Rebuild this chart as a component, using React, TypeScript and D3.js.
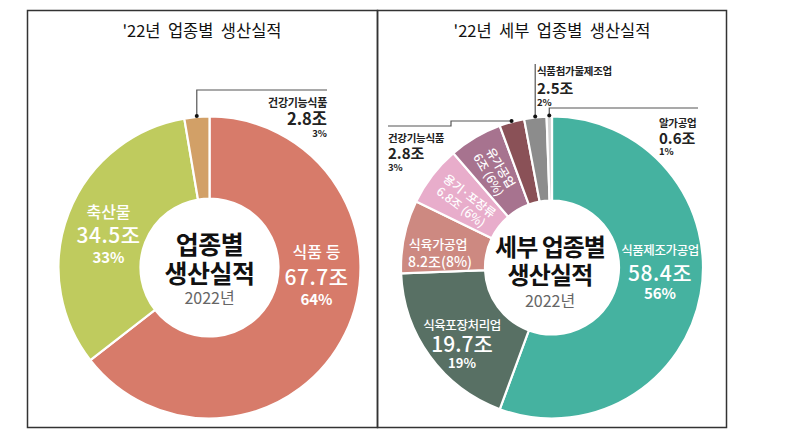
import React from "react";
import * as d3 from "d3";

// ---------- data ----------
const leftCategories = ["식품 등", "축산물", "건강기능식품"];
const leftValues = [67.7, 34.5, 2.8];
const leftPercents = ["64%", "33%", "3%"];
const leftColors = ["#D77B6A", "#BFCB5E", "#D2A067"];

const rightCategories = [
  "식품제조가공업",
  "식육포장처리업",
  "식육가공업",
  "용기·포장류",
  "유가공업",
  "건강기능식품",
  "식품첨가물제조업",
  "알가공업",
];
const rightValues = [58.4, 19.7, 8.2, 6.8, 6, 2.8, 2.5, 0.6];
const rightPercents = ["56%", "19%", "8%", "6%", "6%", "3%", "2%", "1%"];
const rightColors = [
  "#45B2A0",
  "#587064",
  "#CD8981",
  "#E8ADCB",
  "#A7738F",
  "#8A5157",
  "#8C8C8C",
  "#D2D2D2",
];

const leftTitle = "'22년  업종별  생산실적";
const rightTitle = "'22년  세부  업종별  생산실적";
const year = "2022년";

const FONT = "'Noto Sans CJK KR', 'Noto Sans', sans-serif";

const OUTER = 151;
const pieGen = d3
  .pie<number>()
  .sort(null)
  .value((d) => d)
  .startAngle(0)
  .endAngle(2 * Math.PI);

function polar(angle: number, r: number): [number, number] {
  return [r * Math.sin(angle), -r * Math.cos(angle)];
}

function Donut({
  values,
  colors,
  inner,
}: {
  values: number[];
  colors: string[];
  inner: number;
}) {
  const arcs = pieGen(values);
  const arc = d3.arc<d3.PieArcDatum<number>>().innerRadius(inner).outerRadius(OUTER);
  return (
    <g>
      {arcs.map((a, i) => (
        <path key={i} d={arc(a) || ""} fill={colors[i]} stroke="#fff" strokeWidth={2.2} />
      ))}
      <circle r={inner} fill="#fff" />
    </g>
  );
}

function midAngle(values: number[], i: number) {
  const a = pieGen(values)[i];
  return (a.startAngle + a.endAngle) / 2;
}

export default function App() {
  const lc = { x: 209.5, y: 267.5 };
  const rc = { x: 552, y: 267.5 };

  // callout dots
  const lDot = polar(midAngle(leftValues, 2), 152);
  const rDot5 = polar(midAngle(rightValues, 5), 152);
  const rDot6 = polar(midAngle(rightValues, 6), 152);
  const rDot7 = polar(midAngle(rightValues, 7), 152);

  const rot3 = (midAngle(rightValues, 3) * 180) / Math.PI - 270;
  const rot4 = (midAngle(rightValues, 4) * 180) / Math.PI - 270;
  const p3 = polar(midAngle(rightValues, 3), 109);
  const p4 = polar(midAngle(rightValues, 4), 112);

  const white = "#fff";
  const dark = "#222";

  return (
    <svg
      width={800}
      height={440}
      style={{ position: "absolute", left: 0, top: 0, background: "#fff" }}
      fontFamily={FONT}
    >
      {/* frames */}
      <rect x={27.5} y={10.5} width={350} height={417} fill="none" stroke="#333" strokeWidth={1.5} />
      <rect x={377.5} y={10.5} width={349} height={417} fill="none" stroke="#333" strokeWidth={1.5} />

      {/* titles */}
      <text x={202} y={37} textAnchor="middle" fontSize={16.5} fill="#111" style={{ whiteSpace: "pre" }}>
        {leftTitle}
      </text>
      <text x={552} y={37} textAnchor="middle" fontSize={16.5} fill="#111" style={{ whiteSpace: "pre" }}>
        {rightTitle}
      </text>

      {/* ---------- left donut ---------- */}
      <g transform={`translate(${lc.x},${lc.y})`}>
        <Donut values={leftValues} colors={leftColors} inner={69} />
        {/* center */}
        <text x={0} y={-14} textAnchor="middle" fontSize={25} fontWeight={700} fill="#111" letterSpacing={-0.5}>업종별</text>
        <text x={0} y={15} textAnchor="middle" fontSize={25} fontWeight={700} fill="#111" letterSpacing={-0.5}>생산실적</text>
        <text x={0} y={36} textAnchor="middle" fontSize={16} fill="#666">{year}</text>
        {/* 식품 등 */}
        <text x={107} y={-10} textAnchor="middle" fontSize={16} fontWeight={500} fill={white}>{leftCategories[0]}</text>
        <text x={107} y={17} textAnchor="middle" fontSize={21} fontWeight={500} fill={white} letterSpacing={0.5}>{leftValues[0]}조</text>
        <text x={107} y={37} textAnchor="middle" fontSize={15} fontWeight={700} fill={white}>{leftPercents[0]}</text>
        {/* 축산물 */}
        <text x={-101} y={-50} textAnchor="middle" fontSize={16} fontWeight={500} fill={white}>{leftCategories[1]}</text>
        <text x={-101} y={-25} textAnchor="middle" fontSize={21} fontWeight={500} fill={white} letterSpacing={0.5}>{leftValues[1]}조</text>
        <text x={-101} y={-5} textAnchor="middle" fontSize={15} fontWeight={700} fill={white}>{leftPercents[1]}</text>
        {/* callout 건강기능식품 */}
        <polyline
          points={`${lDot[0]},${lDot[1]} ${lDot[0]},${90 - lc.y} ${327 - lc.x},${90 - lc.y}`}
          fill="none"
          stroke="#555"
          strokeWidth={1.2}
        />
        <circle cx={lDot[0]} cy={lDot[1]} r={2} fill="#111" />
      </g>
      <text x={327} y={107} textAnchor="end" fontSize={11} fontWeight={700} fill={dark} letterSpacing={-0.3}>{leftCategories[2]}</text>
      <text x={327} y={125} textAnchor="end" fontSize={16.5} fontWeight={700} fill={dark}>{leftValues[2]}조</text>
      <text x={327} y={137} textAnchor="end" fontSize={9.5} fontWeight={700} fill={dark}>{leftPercents[2]}</text>

      {/* ---------- right donut ---------- */}
      <g transform={`translate(${rc.x},${rc.y})`}>
        <Donut values={rightValues} colors={rightColors} inner={67} />
        {/* center */}
        <text x={-2} y={-12} textAnchor="middle" fontSize={24} fontWeight={700} fill="#111" letterSpacing={-1}>세부 업종별</text>
        <text x={-2} y={16} textAnchor="middle" fontSize={24} fontWeight={700} fill="#111" letterSpacing={-0.8}>생산실적</text>
        <text x={-2} y={39} textAnchor="middle" fontSize={16} fill="#666">{year}</text>
        {/* 식품제조가공업 */}
        <text x={108} y={-13} textAnchor="middle" fontSize={12.5} fontWeight={500} fill={white} letterSpacing={-0.4}>{rightCategories[0]}</text>
        <text x={108} y={13} textAnchor="middle" fontSize={21} fontWeight={500} fill={white} letterSpacing={0.5}>{rightValues[0]}조</text>
        <text x={108} y={31} textAnchor="middle" fontSize={15} fontWeight={700} fill={white}>{rightPercents[0]}</text>
        {/* 식육포장처리업 */}
        <text x={-90} y={62} textAnchor="middle" fontSize={12.5} fontWeight={500} fill={white} letterSpacing={-0.4}>{rightCategories[1]}</text>
        <text x={-90} y={84} textAnchor="middle" fontSize={21} fontWeight={500} fill={white}>{rightValues[1]}조</text>
        <text x={-90} y={100} textAnchor="middle" fontSize={13} fontWeight={700} fill={white}>{rightPercents[1]}</text>
        {/* 식육가공업 */}
        <text x={-114} y={-19} textAnchor="middle" fontSize={13} fontWeight={500} fill={white} letterSpacing={-0.3}>{rightCategories[2]}</text>
        <text x={-112} y={-1} textAnchor="middle" fontSize={14} fontWeight={500} fill={white}>{rightValues[2]}조({rightPercents[2]})</text>
        {/* 용기·포장류 (rotated) */}
        <g transform={`translate(${p3[0]},${p3[1]}) rotate(${rot3})`}>
          <text x={0} y={-2} textAnchor="middle" fontSize={12} fontWeight={500} fill={white}>{rightCategories[3]}</text>
          <text x={0} y={12} textAnchor="middle" fontSize={12} fontWeight={500} fill={white}>{rightValues[3]}조 ({rightPercents[3]})</text>
        </g>
        {/* 유가공업 (rotated) */}
        <g transform={`translate(${p4[0]},${p4[1]}) rotate(${rot4})`}>
          <text x={0} y={-2} textAnchor="middle" fontSize={12} fontWeight={500} fill={white}>{rightCategories[4]}</text>
          <text x={0} y={12} textAnchor="middle" fontSize={12} fontWeight={500} fill={white}>{rightValues[4]}조 ({rightPercents[4]})</text>
        </g>
        {/* callouts */}
        <polyline
          points={`${rDot5[0]},${rDot5[1]} ${451 - rc.x},${rDot5[1]} ${451 - rc.x},${126 - rc.y} ${388 - rc.x},${126 - rc.y}`}
          fill="none"
          stroke="#555"
          strokeWidth={1.2}
        />
        <polyline
          points={`${rDot6[0]},${rDot6[1]} ${rDot6[0]},${64 - rc.y}`}
          fill="none"
          stroke="#555"
          strokeWidth={1.2}
        />
        <polyline
          points={`${rDot7[0]},${rDot7[1]} ${rDot7[0]},${108 - rc.y} ${698 - rc.x},${108 - rc.y}`}
          fill="none"
          stroke="#555"
          strokeWidth={1.2}
        />
        <circle cx={rDot5[0]} cy={rDot5[1]} r={2} fill="#111" />
        <circle cx={rDot6[0]} cy={rDot6[1]} r={2} fill="#111" />
        <circle cx={rDot7[0]} cy={rDot7[1]} r={2} fill="#111" />
      </g>
      {/* 건강기능식품 right */}
      <text x={388} y={142} fontSize={10.5} fontWeight={700} fill={dark} letterSpacing={-0.3}>{rightCategories[5]}</text>
      <text x={388} y={158.5} fontSize={15} fontWeight={700} fill={dark}>{rightValues[5]}조</text>
      <text x={388} y={171} fontSize={9.5} fontWeight={700} fill={dark}>{rightPercents[5]}</text>
      {/* 식품첨가물제조업 */}
      <text x={537} y={75} fontSize={10.5} fontWeight={700} fill={dark} letterSpacing={-0.3}>{rightCategories[6]}</text>
      <text x={537} y={93.5} fontSize={15} fontWeight={700} fill={dark}>{rightValues[6]}조</text>
      <text x={537} y={106} fontSize={9.5} fontWeight={700} fill={dark}>{rightPercents[6]}</text>
      {/* 알가공업 */}
      <text x={659} y={127} fontSize={10.5} fontWeight={700} fill={dark} letterSpacing={-0.3}>{rightCategories[7]}</text>
      <text x={659} y={143.5} fontSize={15} fontWeight={700} fill={dark}>{rightValues[7]}조</text>
      <text x={659} y={154.5} fontSize={9.5} fontWeight={700} fill={dark}>{rightPercents[7]}</text>
    </svg>
  );
}
